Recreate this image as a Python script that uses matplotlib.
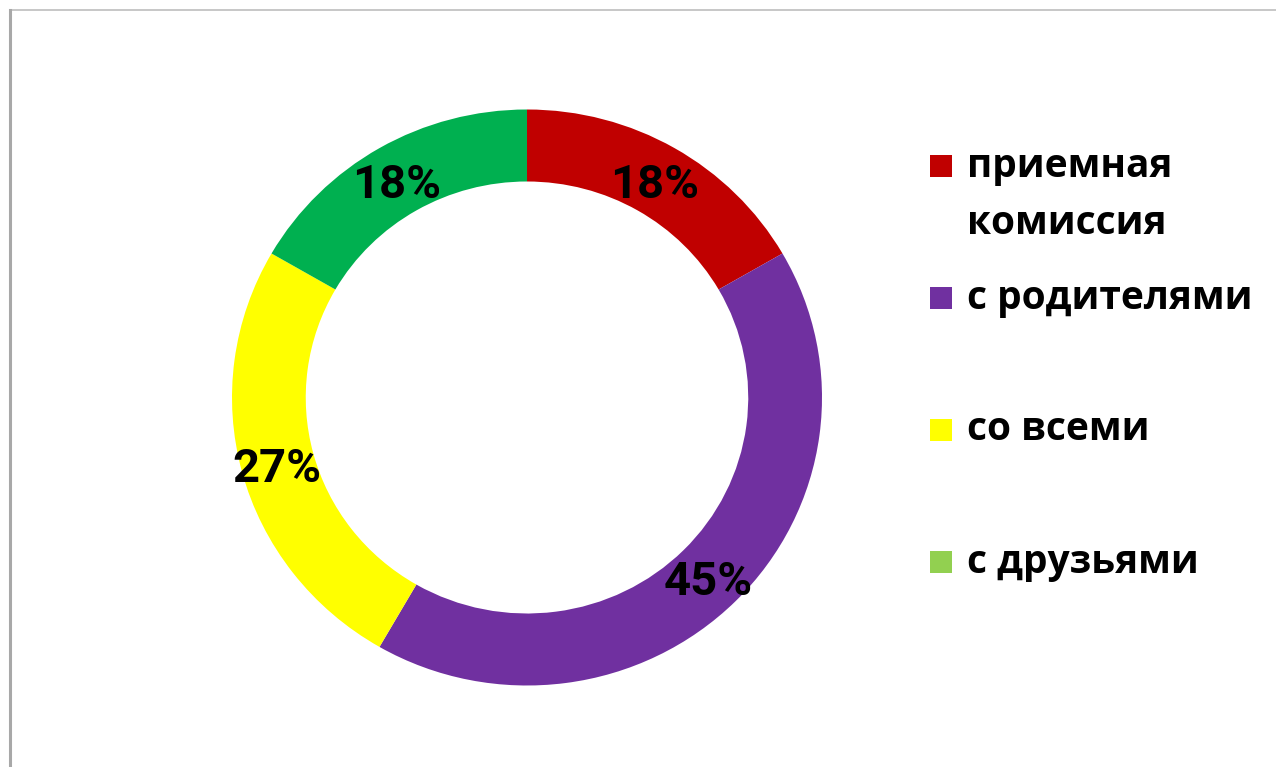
import numpy as np
import matplotlib
matplotlib.use("Agg")
import matplotlib.pyplot as plt
from matplotlib.patches import Rectangle
from matplotlib.lines import Line2D
from matplotlib.transforms import offset_copy

# Data
categories = ["приемная\nкомиссия", "с родителями", "со всеми", "с друзьями"]
values = [2, 5, 3, 2]
pct_labels = ["18%", "45%", "27%", "18%"]
ring_colors = ["#C00000", "#7030A0", "#FFFF00", "#00B050"]
legend_colors = ["#C00000", "#7030A0", "#FFFF00", "#92D050"]

W, H = 1276, 767
fig = plt.figure(figsize=(W / 100, H / 100), dpi=100)
fig.patch.set_facecolor("white")

pct_fam = ["Roboto", "Open Sans", "DejaVu Sans"]
leg_fam = ["Open Sans", "DejaVu Sans"]

cx, cy, RX, RY = 527, 397.5, 295, 288
ax = fig.add_axes([(cx - RX) / W, (H - cy - RY) / H, 2 * RX / W, 2 * RY / H])
ring_w = 0.25
ax.pie(values, colors=ring_colors, startangle=90, counterclock=False,
       radius=1.0, wedgeprops=dict(width=ring_w, edgecolor="none", linewidth=0))
ax.set_xlim(-1, 1)
ax.set_ylim(-1, 1)
ax.set_aspect("auto")
ax.axis("off")

lab_tr = offset_copy(ax.transData, fig=fig, x=-1, y=-6, units="dots")
total = sum(values)
start = 90.0
rmid = 1.0 - ring_w / 2
for v, lab in zip(values, pct_labels):
    span = 360.0 * v / total
    mid = np.deg2rad(start - span / 2)
    ax.text(rmid * np.cos(mid), rmid * np.sin(mid), lab, ha="center", va="center",
            fontsize=34, fontweight="bold", family=pct_fam, color="black",
            transform=lab_tr)
    start -= span

# Legend (manual)
entry_y = [166, 298, 430, 562]
line_step = 57
sq = 22
for lab, col, y in zip(categories, legend_colors, entry_y):
    fig.patches.append(Rectangle((930 / W, (H - y - sq / 2) / H), sq / W, sq / H,
                                 transform=fig.transFigure, facecolor=col, edgecolor="none"))
    for i, line in enumerate(lab.split("\n")):
        fig.text(967 / W, (H - y - i * line_step) / H, line, ha="left", va="center",
                 fontsize=28, fontweight="bold", family=leg_fam, color="black")

# Frame lines (top and left)
fig.add_artist(Line2D([10 / W, 1.0], [(H - 10) / H] * 2, transform=fig.transFigure,
                      color="#BDBDBD", linewidth=1.2))
fig.add_artist(Line2D([10 / W] * 2, [0, (H - 10) / H], transform=fig.transFigure,
                      color="#A8A8A8", linewidth=2.2))

fig.savefig("out.png", dpi=100, facecolor="white")
